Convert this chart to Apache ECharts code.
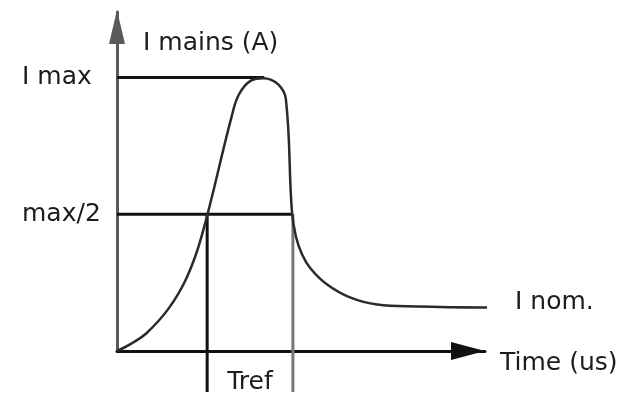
<!DOCTYPE html>
<html>
<head>
<meta charset="utf-8">
<script src="https://cdn.jsdelivr.net/npm/echarts@6/dist/echarts.min.js"></script>
<style>
html, body { margin: 0; padding: 0; background: #fff; }
#chart { width: 624px; height: 395px; }
</style>
</head>
<body>
<div id="chart"></div>
<script>
// inrush current curve, time in arbitrary units, current as fraction of I max
var timeUs = [0, 4, 8, 14, 19, 23, 31.2, 33.2, 36.5, 39.8, 43.8, 45.9, 47.5, 48.6, 50.3, 52.6, 57.1, 63.3, 70.7, 81.5, 101.9];
var mainsA = [0, 0.028, 0.065, 0.155, 0.27, 0.42, 0.86, 0.94, 0.99, 0.998, 0.975, 0.92, 0.516, 0.42, 0.353, 0.302, 0.243, 0.196, 0.17, 0.163, 0.159];

var iMax = 1.0;
var iHalf = 0.5;
var tPeak = 40;
var tRise = 24.5;
var tFall = 47.8;
var lineFloor = -0.15;

var yTickVals = [iHalf, iMax];
var yTickNames = ['max/2', 'I max'];
var xTickVals = [(tRise + tFall) / 2];
var xTickNames = ['Tref'];

var font = 'DejaVu Sans';
var ink = '#1c1c1c';

function zip(a, b) {
    var out = [];
    for (var i = 0; i < a.length; i++) {
        out.push([a[i], b[i]]);
    }
    return out;
}

function refLine(points, color) {
    return {
        type: 'line',
        data: points,
        symbol: 'none',
        clip: false,
        silent: true,
        lineStyle: { color: color, width: 3 }
    };
}

var chart = echarts.init(document.getElementById('chart'));
chart.setOption({
    animation: false,
    grid: { left: 117, right: 139, top: 12, bottom: 41 },
    xAxis: {
        type: 'value',
        min: 0,
        max: 100,
        name: 'Time (us)',
        nameLocation: 'end',
        nameGap: 15,
        nameTextStyle: {
            fontFamily: font, fontSize: 25, color: ink,
            align: 'left', verticalAlign: 'top'
        },
        axisLine: {
            lineStyle: { color: '#111', width: 3 },
            symbol: ['none', 'triangle'],
            symbolSize: [18, 34],
            symbolOffset: [0, -17]
        },
        axisTick: { show: false },
        splitLine: { show: false },
        axisLabel: {
            customValues: xTickVals,
            margin: 19,
            fontFamily: font, fontSize: 25, color: ink,
            formatter: function (v) {
                var i = xTickVals.indexOf(v);
                return i >= 0 ? xTickNames[i] : '';
            }
        }
    },
    yAxis: {
        type: 'value',
        min: 0,
        max: 1.24,
        name: 'I mains (A)',
        nameLocation: 'end',
        nameGap: -31,
        nameTextStyle: {
            fontFamily: font, fontSize: 25, color: ink,
            align: 'left', verticalAlign: 'middle', padding: [0, 0, 0, 26]
        },
        axisLine: {
            lineStyle: { color: '#5a5a5a', width: 3 },
            symbol: ['none', 'triangle'],
            symbolSize: [16, 34],
            symbolOffset: [0, -15]
        },
        axisTick: { show: false },
        splitLine: { show: false },
        axisLabel: {
            customValues: yTickVals,
            margin: 95,
            align: 'left',
            fontFamily: font, fontSize: 25, color: ink,
            formatter: function (v) {
                var i = yTickVals.indexOf(v);
                return i >= 0 ? yTickNames[i] : '';
            }
        }
    },
    series: [
        refLine([[0, iMax], [tPeak, iMax]], '#111'),
        refLine([[0, iHalf], [tFall, iHalf]], '#111'),
        refLine([[tRise, iHalf], [tRise, lineFloor]], '#111'),
        refLine([[tFall, iHalf], [tFall, lineFloor]], '#777'),
        {
            type: 'line',
            data: zip(timeUs, mainsA),
            smooth: 0.4,
            symbol: 'none',
            clip: false,
            lineStyle: { color: '#2a2a2a', width: 2.5 },
            endLabel: {
                show: true,
                formatter: 'I nom.',
                distance: 28,
                offset: [0, -5],
                fontFamily: font, fontSize: 25, color: ink
            }
        }
    ]
});
</script>
</body>
</html>
